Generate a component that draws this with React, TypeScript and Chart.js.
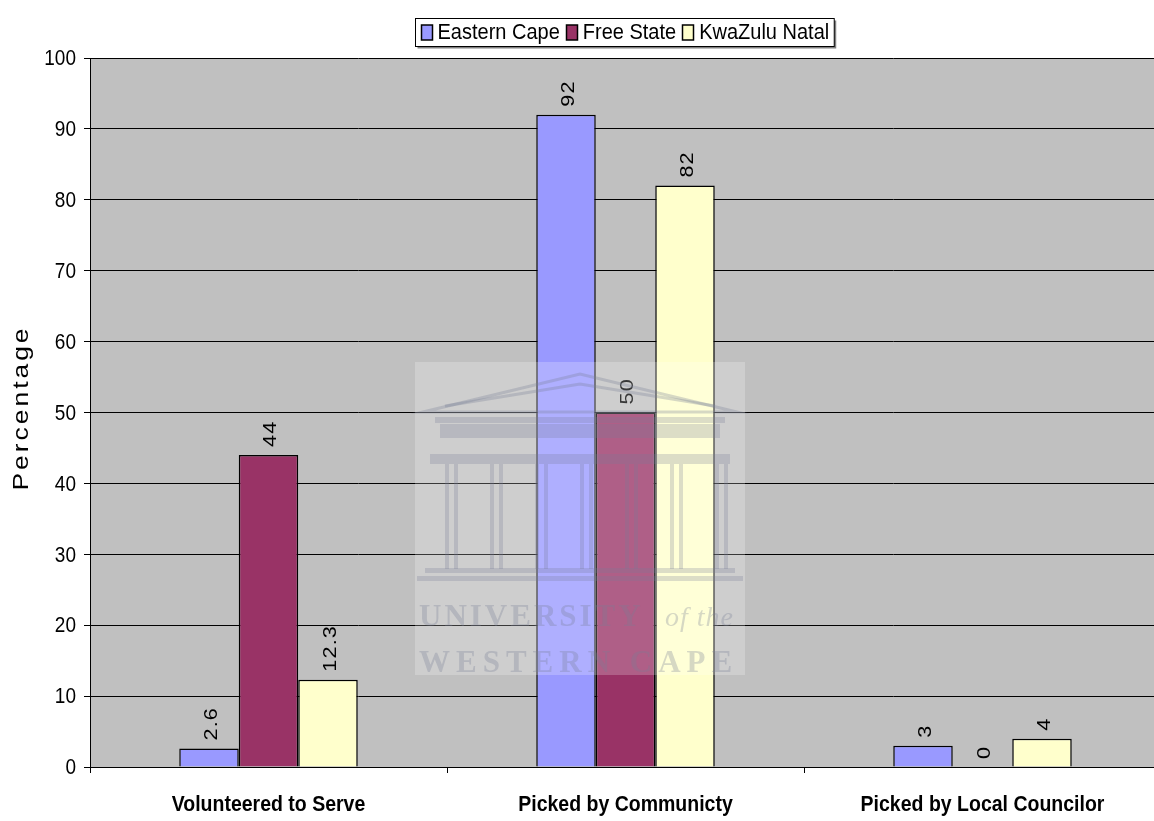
import React, { useEffect, useRef } from "react";
import { Chart, registerables } from "chart.js";

Chart.register(...registerables);

const categories = ["Volunteered to Serve", "Picked by Communicty", "Picked by Local Councilor"];
const seriesNames = ["Eastern Cape", "Free State", "KwaZulu Natal"];
const easternCape = [2.6, 92, 3];
const freeState = [44, 50, 0];
const kwaZuluNatal = [12.3, 82, 4];
const seriesColors = ["#9999FF", "#993366", "#FFFFCC"];
const yMin = 0;
const yMax = 100;
const yStep = 10;
const yTitle = "Percentage";
const watermarkLines = ["UNIVERSITY", "of the", "WESTERN CAPE"];

const SANS = '"Liberation Sans", Arial, sans-serif';
const STRETCH = 1.2;

const decorPlugin = {
  id: "decor",
  beforeDraw(chart: any) {
    const { ctx, chartArea } = chart;
    ctx.save();
    ctx.fillStyle = "#FFFFFF";
    ctx.fillRect(0, 0, chart.width, chart.height);
    ctx.fillStyle = "#C0C0C0";
    ctx.fillRect(chartArea.left, chartArea.top, chartArea.right - chartArea.left, chartArea.bottom - chartArea.top);
    ctx.restore();
  },
  afterDraw(chart: any) {
    const { ctx } = chart;
    const xScale = chart.scales.x;
    const yScale = chart.scales.y;

    // y tick labels (tall, condensed look)
    ctx.save();
    ctx.font = `19px ${SANS}`;
    ctx.fillStyle = "#000";
    ctx.textAlign = "right";
    ctx.textBaseline = "middle";
    yScale.ticks.forEach((t: any, i: number) => {
      const y = yScale.getPixelForTick(i);
      ctx.save();
      ctx.translate(76, y + 1);
      ctx.scale(1, STRETCH);
      ctx.fillText(String(t.value), 0, 0);
      ctx.restore();
    });
    ctx.restore();

    // x category labels
    ctx.save();
    ctx.font = `bold 19.5px ${SANS}`;
    ctx.fillStyle = "#000";
    ctx.textAlign = "center";
    ctx.textBaseline = "middle";
    categories.forEach((c, i) => {
      const x = xScale.getPixelForTick(i);
      ctx.save();
      ctx.translate(x, 805);
      ctx.scale(1, 1.12);
      ctx.fillText(c, 0, 0);
      ctx.restore();
    });
    ctx.restore();

    // data labels
    ctx.save();
    ctx.font = `18px ${SANS}`;
    (ctx as any).letterSpacing = "1px";
    ctx.fillStyle = "#000";
    ctx.textAlign = "left";
    ctx.textBaseline = "middle";
    chart.data.datasets.forEach((ds: any, di: number) => {
      const meta = chart.getDatasetMeta(di);
      meta.data.forEach((bar: any, i: number) => {
        const v = ds.data[i];
        ctx.save();
        ctx.translate(bar.x + 3, bar.y - 8);
        ctx.rotate(-Math.PI / 2);
        ctx.scale(STRETCH, 1);
        ctx.fillText(String(v), 0, 0);
        ctx.restore();
      });
    });
    ctx.restore();

    // y title
    ctx.save();
    ctx.font = `22px ${SANS}`;
    (ctx as any).letterSpacing = "2.5px";
    ctx.fillStyle = "#000";
    ctx.textAlign = "center";
    ctx.textBaseline = "middle";
    ctx.translate(22, 408);
    ctx.rotate(-Math.PI / 2);
    ctx.scale(STRETCH, 1);
    ctx.fillText(yTitle, 0, 0);
    ctx.restore();

    // legend
    ctx.save();
    ctx.font = `20px ${SANS}`;
    const boxW = 11;
    const boxH = 15;
    const gapBox = 6;
    const gapItem = 6;
    const padX = 5;
    const widths = seriesNames.map((n) => ctx.measureText(n).width);
    const total = widths.reduce((a, w) => a + boxW + gapBox + w, 0) + gapItem * (seriesNames.length - 1) + padX * 2;
    const cx = 624.5;
    const lx = Math.round(cx - total / 2) + 0.5;
    const ly = 18.5;
    const lh = 28;
    ctx.fillStyle = "#808080";
    ctx.fillRect(lx + 2, ly + 2, total, lh);
    ctx.fillStyle = "#FFFFFF";
    ctx.fillRect(lx, ly, total, lh);
    ctx.strokeStyle = "#000";
    ctx.lineWidth = 1;
    ctx.strokeRect(lx, ly, total, lh);
    let x = lx + padX;
    ctx.textBaseline = "middle";
    ctx.textAlign = "left";
    seriesNames.forEach((n, i) => {
      ctx.fillStyle = seriesColors[i];
      ctx.fillRect(Math.round(x) + 0.5, ly + 6.5, boxW, boxH);
      ctx.strokeStyle = "#000";
      ctx.lineWidth = 1.5;
      ctx.strokeRect(Math.round(x) + 0.5, ly + 6.5, boxW, boxH);
      x += boxW + gapBox;
      ctx.fillStyle = "#000";
      ctx.save();
      ctx.translate(x, ly + lh / 2 + 1);
      ctx.scale(1, 1.08);
      ctx.fillText(n, 0, 0);
      ctx.restore();
      x += widths[i] + gapItem;
    });
    ctx.restore();

    // watermark
    ctx.save();
    const wx = 415, wy = 362, ww = 330, wh = 313;
    ctx.fillStyle = "rgba(255,255,255,0.22)";
    ctx.fillRect(wx, wy, ww, wh);
    ctx.strokeStyle = "rgba(120,125,150,0.3)";
    ctx.fillStyle = "rgba(120,125,150,0.26)";
    ctx.lineWidth = 3;
    ctx.beginPath();
    ctx.moveTo(wx + 8, wy + 50);
    ctx.lineTo(wx + 165, wy + 12);
    ctx.lineTo(wx + 322, wy + 50);
    ctx.closePath();
    ctx.stroke();
    ctx.beginPath();
    ctx.moveTo(wx + 30, wy + 44);
    ctx.lineTo(wx + 165, wy + 22);
    ctx.lineTo(wx + 300, wy + 44);
    ctx.stroke();
    ctx.fillRect(wx + 20, wy + 55, 290, 6);
    ctx.fillRect(wx + 25, wy + 62, 280, 14);
    ctx.fillRect(wx + 15, wy + 92, 300, 10);
    for (let k = 0; k < 7; k++) {
      const colX = wx + 30 + k * 45;
      ctx.fillRect(colX, wy + 102, 4, 105);
      ctx.fillRect(colX + 9, wy + 102, 4, 105);
    }
    ctx.fillRect(wx + 10, wy + 206, 310, 5);
    ctx.fillRect(wx + 2, wy + 214, 326, 5);
    ctx.fillStyle = "rgba(120,125,150,0.3)";
    ctx.font = `bold 31px "Liberation Serif", "DejaVu Serif", serif`;
    (ctx as any).letterSpacing = "3px";
    ctx.textAlign = "left";
    ctx.textBaseline = "alphabetic";
    ctx.fillText(watermarkLines[0], wx + 4, wy + 264);
    ctx.font = `italic 28px "Liberation Serif", "DejaVu Serif", serif`;
    (ctx as any).letterSpacing = "1px";
    ctx.fillText(watermarkLines[1], wx + 250, wy + 264);
    ctx.font = `bold 31px "Liberation Serif", "DejaVu Serif", serif`;
    (ctx as any).letterSpacing = "6px";
    ctx.fillText(watermarkLines[2], wx + 4, wy + 310);
    ctx.restore();
  },
};

export default function App() {
  const ref = useRef<HTMLCanvasElement | null>(null);
  useEffect(() => {
    document.body.style.margin = "0";
    const canvas = ref.current;
    if (!canvas) return;
    const seriesData = [easternCape, freeState, kwaZuluNatal];
    const chart = new Chart(canvas, {
      type: "bar",
      data: {
        labels: categories,
        datasets: seriesNames.map((name, i) => ({
          label: name,
          data: seriesData[i],
          backgroundColor: seriesColors[i],
          borderColor: "#000000",
          borderWidth: 1.5,
          barPercentage: 1,
          categoryPercentage: 0.5,
        })),
      },
      options: {
        animation: false,
        responsive: false,
        devicePixelRatio: 1,
        layout: { padding: { top: 58, left: 0, right: 0, bottom: 0 } },
        plugins: {
          legend: { display: false },
          tooltip: { enabled: false },
          title: { display: false },
        },
        scales: {
          x: {
            grid: {
              offset: true,
              drawOnChartArea: false,
              drawTicks: true,
              tickLength: 6,
              color: "#000000",
            },
            border: { display: true, color: "#000000", width: 1 },
            ticks: {
              color: "rgba(0,0,0,0)",
              padding: 17,
              maxRotation: 0,
              autoSkip: false,
              font: { family: SANS, size: 19, weight: "bold" },
            },
            afterFit(scale: any) {
              scale.height = 54;
            },
          },
          y: {
            min: yMin,
            max: yMax,
            ticks: {
              stepSize: yStep,
              color: "rgba(0,0,0,0)",
              padding: 8,
              font: { family: SANS, size: 19 },
            },
            grid: { color: "#000000", lineWidth: 1, tickLength: 6, drawTicks: true },
            border: { display: true, color: "#000000", width: 1 },
            afterFit(scale: any) {
              scale.width = 90;
            },
          },
        },
      },
      plugins: [decorPlugin],
    });
    return () => chart.destroy();
  }, []);
  return (
    <div style={{ position: "absolute", left: 0, top: 0, width: 1154, height: 821, overflow: "hidden" }}>
      <canvas ref={ref} width={1161} height={821} style={{ display: "block" }} />
    </div>
  );
}
